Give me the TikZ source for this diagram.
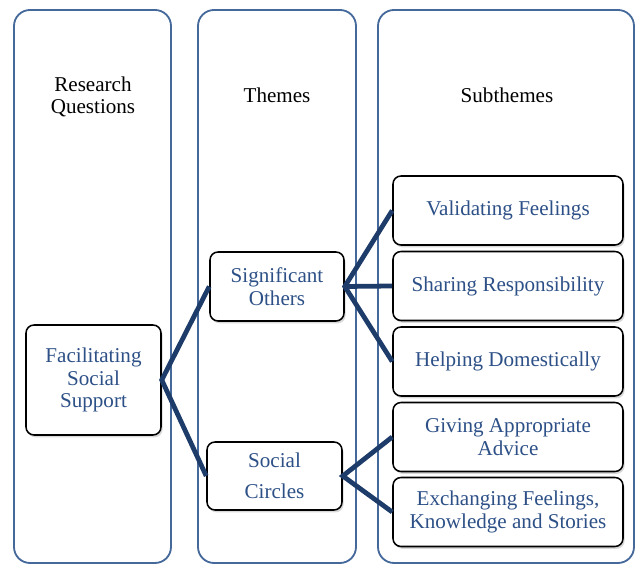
\documentclass[tikz,border=0pt]{standalone}
\usepackage{fontspec}
\setmainfont{Liberation Serif}
\usetikzlibrary{shadows}
\definecolor{colblue}{RGB}{70,105,155}
\definecolor{txtblue}{RGB}{45,80,135}
\definecolor{linkblue}{RGB}{30,60,105}

\begin{document}
\begin{tikzpicture}[
  every node/.style={font=\fontsize{15}{16}\selectfont},
  col/.style={draw=colblue, line width=1.3pt, rounded corners=0.4cm},
  box/.style={draw=black, line width=1.1pt, rounded corners=0.2cm, fill=white,
    text=txtblue, align=center,
    drop shadow={opacity=0.3, shadow xshift=0.04cm, shadow yshift=-0.06cm}},
  subbox/.style={box, minimum width=5.75cm, minimum height=1.725cm},
  link/.style={draw=linkblue, line width=3.4pt}
]
\useasboundingbox (0,0) rectangle (15.9,14.125);

% Three columns with their headings
\draw[col] (0.35, 0.05) rectangle (4.275, 13.875);
\draw[col] (4.95, 0.05) rectangle (8.9, 13.875);
\draw[col] (9.45, 0.05) rectangle (15.85, 13.875);
\node[align=center] (rq) at (2.325, 11.7) {Research\\Questions};
\node (th) at (6.925, 11.75) {Themes};
\node (st) at (12.675, 11.75) {Subthemes};

% Question and themes
\node[box, minimum width=3.375cm, minimum height=2.75cm] (fss) at (2.3375, 4.625) {Facilitating\\Social\\Support};
\node[box, minimum width=3.35cm, minimum height=1.725cm] (so) at (6.925, 6.9625) {Significant\\Others};
\node[box, minimum width=3.375cm, minimum height=1.7cm] (sc) at (6.8625, 2.225) {Social\\[6pt]Circles};

% Subthemes
\node[subbox] (vf) at (12.7, 8.8625) {Validating Feelings};
\node[subbox] (sr) at (12.7, 6.975) {Sharing Responsibility};
\node[subbox] (hd) at (12.7, 5.0875) {Helping Domestically};
\node[subbox] (ga) at (12.7, 3.2) {Giving Appropriate\\Advice};
\node[subbox] (ek) at (12.7, 1.325) {Exchanging Feelings,\\Knowledge and Stories};

% Links
\draw[link] (so.west) -- (fss.east) -- (sc.west);
\draw[link] (vf.west) -- (so.east) -- (hd.west);
\draw[link] (so.east) -- (sr.west);
\draw[link] (ga.west) -- (sc.east) -- (ek.west);
\end{tikzpicture}
\end{document}
